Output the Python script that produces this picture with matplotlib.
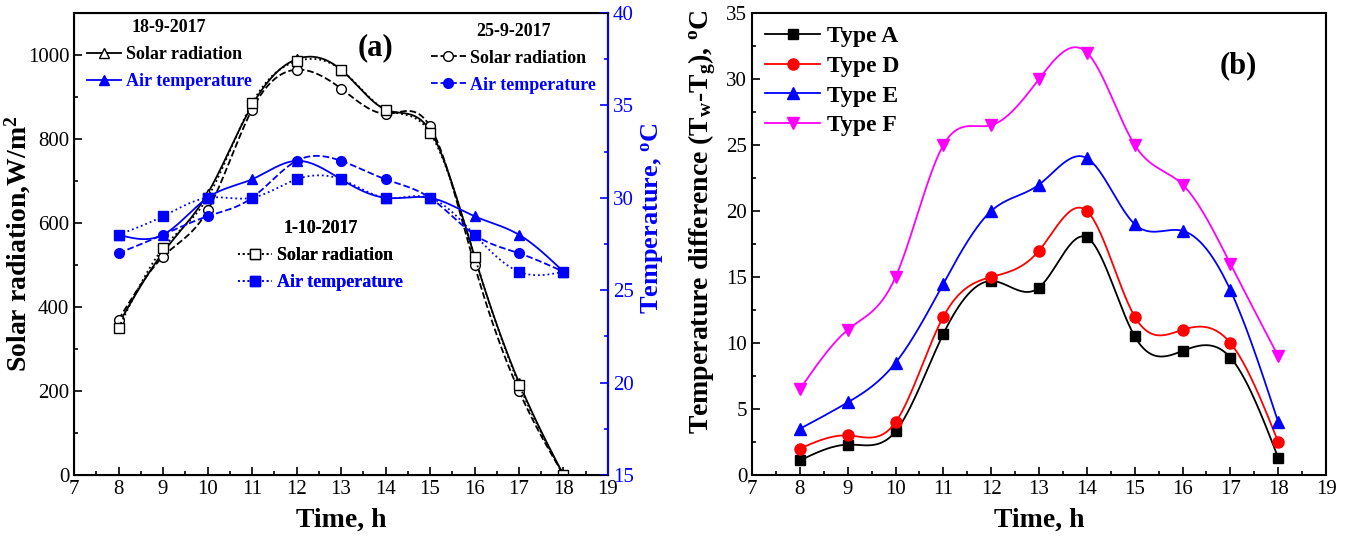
import matplotlib.pyplot as plt
import numpy as np
from matplotlib.ticker import MultipleLocator

plt.rcParams['font.family'] = ['Liberation Serif', 'DejaVu Serif']
plt.rcParams['mathtext.fontset'] = 'custom'
plt.rcParams['mathtext.rm'] = 'Liberation Serif'
plt.rcParams['mathtext.bf'] = 'Liberation Serif:bold'
plt.rcParams['mathtext.it'] = 'Liberation Serif:italic'

hours = [8, 9, 10, 11, 12, 13, 14, 15, 16, 17, 18]

# (a) solar radiation W/m2 and air temperature degC for three days
rad_18sep = [360, 530, 670, 880, 990, 965, 870, 820, 520, 220, 0]
rad_25sep = [370, 520, 630, 870, 965, 920, 860, 830, 500, 200, 0]
rad_01oct = [350, 540, 660, 885, 985, 965, 870, 815, 520, 215, 0]
air_18sep = [28, 28, 30, 31, 32, 31, 30, 30, 29, 28, 26]
air_25sep = [27, 28, 29, 30, 32, 32, 31, 30, 28, 27, 26]
air_01oct = [28, 29, 30, 30, 31, 31, 30, 30, 28, 26, 26]

# (b) temperature difference Tw - Tg
type_names = ['Type A', 'Type D', 'Type E', 'Type F']
type_a = [1.1, 2.3, 3.3, 10.7, 14.7, 14.2, 18.0, 10.5, 9.4, 8.9, 1.3]
type_d = [2.0, 3.0, 4.0, 12.0, 15.0, 17.0, 20.0, 12.0, 11.0, 10.0, 2.5]
type_e = [3.5, 5.5, 8.5, 14.5, 20.0, 22.0, 24.0, 19.0, 18.5, 14.0, 4.0]
type_f = [6.5, 11.0, 15.0, 25.0, 26.5, 30.0, 32.0, 25.0, 22.0, 16.0, 9.0]


def spline(x, y, n=300):
    # natural cubic spline through the points, for a smooth connecting line
    x = np.asarray(x, float)
    y = np.asarray(y, float)
    m = len(x)
    h = np.diff(x)
    A = np.zeros((m, m))
    r = np.zeros(m)
    A[0, 0] = A[-1, -1] = 1
    for i in range(1, m - 1):
        A[i, i - 1] = h[i - 1]
        A[i, i] = 2 * (h[i - 1] + h[i])
        A[i, i + 1] = h[i]
        r[i] = 6 * ((y[i + 1] - y[i]) / h[i] - (y[i] - y[i - 1]) / h[i - 1])
    M = np.linalg.solve(A, r)
    xs = np.linspace(x[0], x[-1], n)
    k = np.clip(np.searchsorted(x, xs) - 1, 0, m - 2)
    t0 = x[k + 1] - xs
    t1 = xs - x[k]
    hk = h[k]
    ys = (M[k] * t0 ** 3 + M[k + 1] * t1 ** 3) / (6 * hk) \
        + (y[k] / hk - M[k] * hk / 6) * t0 + (y[k + 1] / hk - M[k + 1] * hk / 6) * t1
    return xs, ys


def smooth_line(ax, x, y, color, ls, marker, mfc, ms, label, lw=1.3):
    xs, ys = spline(x, y)
    ax.plot(xs, ys, color=color, ls=ls, lw=lw)
    ax.plot(x, y, ls='none', marker=marker, color=color, mfc=mfc, mec=color, ms=ms)
    return plt.Line2D([], [], color=color, ls=ls, lw=lw, marker=marker, mfc=mfc,
                      mec=color, ms=ms, label=label)


def style_axis(ax):
    ax.set_xlim(7, 19)
    ax.xaxis.set_major_locator(MultipleLocator(1))
    ax.xaxis.set_minor_locator(MultipleLocator(0.5))
    ax.tick_params(which='both', direction='in', labelsize=15)
    ax.tick_params(which='major', length=6, width=1.2)
    ax.tick_params(which='minor', length=3, width=1.2)
    for s in ax.spines.values():
        s.set_linewidth(1.5)
    ax.set_xlabel('Time, h', fontsize=20, fontweight='bold', labelpad=6)


fig = plt.figure(figsize=(13.49, 5.41), dpi=100)
ax1 = fig.add_axes([0.0549, 0.122, 0.3958, 0.854])
ax2 = ax1.twinx()
ax3 = fig.add_axes([0.5575, 0.122, 0.4255, 0.854])

# ---- panel (a)
style_axis(ax1)
ax1.set_ylim(0, 1100)
ax1.set_yticks([0, 200, 400, 600, 800, 1000])
ax1.yaxis.set_minor_locator(MultipleLocator(100))
ax1.tick_params(axis='y', which='both', right=False)
ax1.set_ylabel('Solar radiation,W/m$^\\mathbf{2}$', fontsize=20, fontweight='bold', labelpad=-4)

ax2.set_ylim(15, 40)
ax2.yaxis.set_major_locator(MultipleLocator(5))
ax2.yaxis.set_minor_locator(MultipleLocator(2.5))
ax2.tick_params(which='both', direction='in', labelsize=15, colors='blue')
ax2.tick_params(which='major', length=6, width=1.2)
ax2.tick_params(which='minor', length=3, width=1.2)
ax2.spines['right'].set_color('blue')
ax2.spines['right'].set_linewidth(1.5)
ax2.set_ylabel('Temperature, $^\\mathbf{o}$C', fontsize=19, fontweight='bold', color='blue', labelpad=4)
ax2.yaxis.label.set_y(0.555)

h1 = smooth_line(ax1, hours, rad_18sep, 'black', '-', '^', 'white', 7, 'Solar radiation')
h2 = smooth_line(ax1, hours, rad_25sep, 'black', '--', 'o', 'white', 7, 'Solar radiation')
h3 = smooth_line(ax1, hours, rad_01oct, 'black', ':', 's', 'white', 7, 'Solar radiation')
h4 = smooth_line(ax2, hours, air_18sep, 'blue', '-', '^', 'blue', 7, 'Air temperature')
h5 = smooth_line(ax2, hours, air_25sep, 'blue', '--', 'o', 'blue', 7, 'Air temperature')
h6 = smooth_line(ax2, hours, air_01oct, 'blue', ':', 's', 'blue', 7, 'Air temperature')

leg_kw = dict(frameon=False, prop={'weight': 'bold', 'size': 13}, handlelength=1.9,
              handletextpad=0.25, labelspacing=0.55, borderpad=0, borderaxespad=0,
              title_fontproperties={'weight': 'bold', 'size': 13})
groups = [([h1, h4], '18-9-2017', (0.024, 0.986)),
          ([h2, h5], '25-9-2017', (0.669, 0.979)),
          ([h3, h6], '1-10-2017', (0.307, 0.551))]
for handles, title, pos in groups:
    leg = ax2.legend(handles=handles, title=title, loc='upper left', bbox_to_anchor=pos, **leg_kw)
    leg.get_texts()[1].set_color('blue')
    ax2.add_artist(leg)
ax2.text(0.564, 0.925, '(a)', transform=ax2.transAxes, fontsize=22, fontweight='bold',
         ha='center', va='center')

# ---- panel (b)
style_axis(ax3)
ax3.set_ylim(0, 35)
ax3.yaxis.set_major_locator(MultipleLocator(5))
ax3.yaxis.set_minor_locator(MultipleLocator(2.5))
ax3.set_ylabel('Temperature difference (T$_\\mathbf{w}$-T$_\\mathbf{g}$), $^\\mathbf{o}$C',
               fontsize=20, fontweight='bold', labelpad=6)
ax3.yaxis.label.set_y(0.548)

series = [(type_a, 'black', 's', 7), (type_d, 'red', 'o', 8),
          (type_e, 'blue', '^', 8.5), (type_f, 'magenta', 'v', 8.5)]
handles = []
for (vals, col, mk, ms), name in zip(series, type_names):
    handles.append(smooth_line(ax3, hours, vals, col, '-', mk, col, ms, name))
ax3.legend(handles=handles, loc='upper left', bbox_to_anchor=(0.0, 1.0), frameon=False,
           handlelength=2.33, handletextpad=0.3, labelspacing=0.34, borderpad=0.45,
           borderaxespad=0.1, prop={'weight': 'bold', 'size': 17})
ax3.text(0.847, 0.885, '(b)', transform=ax3.transAxes, fontsize=22, fontweight='bold',
         ha='center', va='center')

fig.savefig('out.png', dpi=100)
